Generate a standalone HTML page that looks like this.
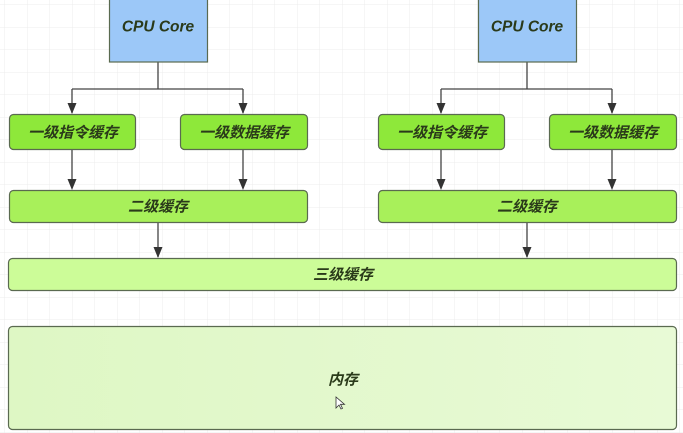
<!DOCTYPE html>
<html><head><meta charset="utf-8"><style>
html,body{margin:0;padding:0;width:683px;height:433px;overflow:hidden;background:#fff}
text{font-family:"Liberation Sans","Noto Sans CJK SC",sans-serif;font-style:italic;font-weight:bold;fill:#2a3a1a;text-anchor:middle;dominant-baseline:central}
</style></head><body>
<svg width="683" height="433" viewBox="0 0 683 433" xmlns="http://www.w3.org/2000/svg">
<defs>
<pattern id="g" width="22.5" height="22.5" patternUnits="userSpaceOnUse" x="5" y="5">
<path d="M22.5 0V22.5H0" fill="none" stroke="#ececec" stroke-width="1"/>
</pattern>
<linearGradient id="mem" x1="0" y1="0" x2="1" y2="0"><stop offset="0" stop-color="#def7c4"/><stop offset="1" stop-color="#e8fad6"/></linearGradient>
</defs>
<rect width="683" height="433" fill="url(#g)"/>
<g stroke="#444" stroke-width="1.3" fill="none">
<path d="M158 62V89M72 89H243M72 89V113M243 89V113"/>
<path d="M72 150V188M243 150V188M158 223V257"/>
<path d="M527 62V89M441 89H612M441 89V113M612 89V113"/>
<path d="M441 150V188M612 150V188M527 223V257"/>
</g>
<g fill="#333">
<path d="M67.5 103L72 114L76.5 103Z"/><path d="M238.5 103L243 114L247.5 103Z"/>
<path d="M436.5 103L441 114L445.5 103Z"/><path d="M607.5 103L612 114L616.5 103Z"/>
<path d="M67.5 179L72 190L76.5 179Z"/><path d="M238.5 179L243 190L247.5 179Z"/>
<path d="M436.5 179L441 190L445.5 179Z"/><path d="M607.5 179L612 190L616.5 179Z"/>
<path d="M153.5 247L158 258L162.5 247Z"/><path d="M522.5 247L527 258L531.5 247Z"/>
</g>
<g stroke="#5a6a50" stroke-width="1.2">
<rect x="109.5" y="-2" width="98" height="64" fill="#9cc8f8"/>
<rect x="478.5" y="-2" width="98" height="64" fill="#9cc8f8"/>
<rect x="9.5" y="114.5" width="126" height="35" rx="4" fill="#8ee83a"/>
<rect x="180.5" y="114.5" width="127" height="35" rx="4" fill="#8ee83a"/>
<rect x="378.5" y="114.5" width="126" height="35" rx="4" fill="#8ee83a"/>
<rect x="549.5" y="114.5" width="127" height="35" rx="4" fill="#8ee83a"/>
<rect x="9.5" y="190.5" width="298" height="32" rx="4" fill="#a8f05a"/>
<rect x="378.5" y="190.5" width="298" height="32" rx="4" fill="#a8f05a"/>
<rect x="8.5" y="258.5" width="668" height="32" rx="4" fill="#ccfc98"/>
<rect x="8.5" y="326.5" width="668" height="103" rx="4" fill="url(#mem)"/>
</g>
<g font-size="15">
<text x="158" y="27" font-size="15.5" style="font-weight:600">CPU Core</text>
<text x="527" y="27" font-size="15.5" style="font-weight:600">CPU Core</text>
<text x="73" y="133">一级指令缓存</text>
<text x="244" y="133">一级数据缓存</text>
<text x="442" y="133">一级指令缓存</text>
<text x="613" y="133">一级数据缓存</text>
<text x="158" y="207">二级缓存</text>
<text x="527" y="207">二级缓存</text>
<text x="343" y="275">三级缓存</text>
<text x="343" y="380">内存</text>
</g>
<path d="M336 397v11l3-3 2 4 1.5-.7-2-4h4z" fill="#fff" stroke="#333" stroke-width="0.8"/>
</svg>
</body></html>
